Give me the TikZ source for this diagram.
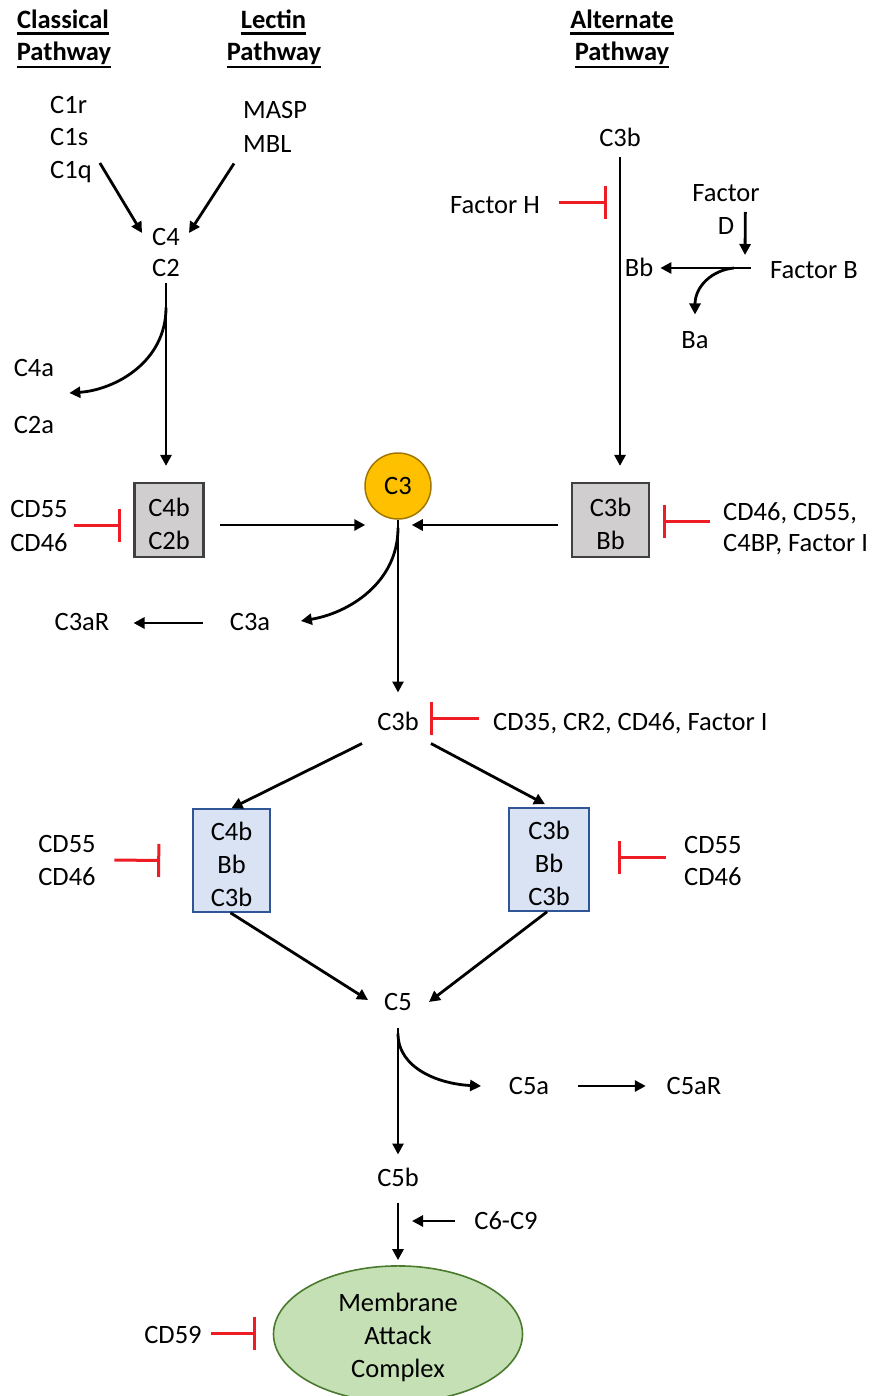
\documentclass[tikz,border=0pt]{standalone}
\usepackage{fontspec}
\setmainfont{Carlito}
\usetikzlibrary{arrows.meta,shapes.geometric}
\definecolor{boxgray}{HTML}{D0CECE}
\definecolor{boxedge}{HTML}{404040}
\definecolor{cgold}{HTML}{FFC000}
\definecolor{cgoldedge}{HTML}{A07800}
\definecolor{blfill}{HTML}{DAE3F3}
\definecolor{bledge}{HTML}{2F5597}
\definecolor{grfill}{HTML}{C5E0B4}
\definecolor{gredge}{HTML}{4A7A2E}
\definecolor{inhred}{HTML}{EE1C25}
\newcommand{\tallstrut}{\rule{0pt}{26pt}}
\begin{document}
\begin{tikzpicture}[x=1pt,y=-1pt,
  font=\fontsize{26.5}{33}\selectfont,
  lbl/.style={inner sep=0pt, text height=16.6pt, text depth=0pt},
  hdr/.style={inner sep=0pt, anchor=base, font=\fontsize{26.5}{33}\selectfont\bfseries},
  uline/.style={line width=2.4pt},
  arr/.style={line width=2.8pt, -{Triangle[length=11pt,width=11pt]}},
  inh/.style={line width=3pt, inhred, -{Bar[width=33pt]}},
  graybox/.style={draw=boxedge, line width=2.2pt, fill=boxgray, inner sep=0pt, align=center},
  bluebox/.style={draw=bledge, line width=1.6pt, fill=blfill, inner sep=0pt, align=center},
]
\useasboundingbox (0,0) rectangle (872,1396);

% pathway headings
\node[hdr] (hcA) at (63,28.5) {Classical};
\node[hdr] (hcB) at (64,61) {Pathway};
\node[hdr] (hlA) at (273.5,28.5) {Lectin};
\node[hdr] (hlB) at (274,61) {Pathway};
\node[hdr] (haA) at (622,28.5) {Alternate};
\node[hdr] (haB) at (622,61) {Pathway};
\foreach \h in {hcA,hlA,haA}
  \draw[uline] ([shift={(0,5)}]\h.base west) -- ([shift={(0,5)}]\h.base east);
\foreach \h in {hcB,hlB,haB}
  \draw[uline] ([shift={(0,6)}]\h.base west) -- ([shift={(0,6)}]\h.base east);

% classical and lectin inputs
\node[lbl, anchor=west] (c1r) at (50,105) {C1r};
\node[lbl, anchor=west] (c1s) at (50,137) {C1s};
\node[lbl, anchor=west] (c1q) at (50,170) {C1q};
\node[lbl, anchor=west] (masp) at (243,110) {MASP};
\node[lbl, anchor=west] (mbl) at (243,144) {MBL};
\node[lbl] (c4) at (166,237) {C4};
\node[lbl] (c2) at (166,268) {C2};
\node[lbl] (c4a) at (34,368) {C4a};
\node[lbl] (c2a) at (34,425) {C2a};

% C3 convertases and C3
\node[graybox, minimum width=69pt, minimum height=74pt] (box1) at (169,520) {\tallstrut C4b\\C2b};
\node[graybox, minimum width=77pt, minimum height=74pt] (box2) at (610.5,520) {\tallstrut C3b\\Bb};
\node[circle, draw=cgoldedge, line width=1.5pt, fill=cgold, minimum size=66pt, inner sep=0pt] (c3) at (398,486) {C3};
\node[lbl] (cd55a) at (39,509) {CD55};
\node[lbl] (cd46a) at (39,543) {CD46};
\node[lbl, anchor=west] (cd46b) at (723,512) {CD46, CD55,};
\node[lbl, anchor=west] (c4bp) at (723,543) {C4BP, Factor I};

% alternate pathway
\node[lbl] (c3bt) at (620,138) {C3b};
\node[lbl] (facH) at (495,205) {Factor H};
\node[lbl] (factor) at (726,193) {Factor};
\node[lbl] (d) at (726,226) {D};
\node[lbl] (facB) at (814,270) {Factor B};
\node[lbl] (bb) at (639,268) {Bb};
\node[lbl] (ba) at (695,340) {Ba};
\coordinate (split) at (745,268);

% C3 cleavage
\node[lbl] (c3a) at (250,622) {C3a};
\node[lbl] (c3ar) at (82,622) {C3aR};
\node[lbl] (c3bm) at (398,722) {C3b};
\node[lbl, anchor=west] (cd35) at (493,722) {CD35, CR2, CD46, Factor I};

% C5 convertases
\node[bluebox, minimum width=77pt, minimum height=103pt] (box3) at (231.5,860.5) {\tallstrut C4b\\Bb\\C3b};
\node[bluebox, minimum width=80pt, minimum height=103pt] (box4) at (549,859.5) {\tallstrut C3b\\Bb\\C3b};
\node[lbl] (cd55c) at (67,844) {CD55};
\node[lbl] (cd46c) at (67,877) {CD46};
\node[lbl, anchor=west] (cd55d) at (684,845) {CD55};
\node[lbl, anchor=west] (cd46d) at (684,877) {CD46};

% terminal pathway
\node[lbl] (c5) at (398,1002) {C5};
\node[lbl] (c5a) at (529,1086) {C5a};
\node[lbl] (c5ar) at (694,1086) {C5aR};
\node[lbl] (c5b) at (398,1178) {C5b};
\node[lbl] (c69) at (506,1221) {C6-C9};
\node[ellipse, draw=gredge, line width=1.6pt, fill=grfill, minimum width=249pt, minimum height=124pt, inner sep=0pt, align=center] (mac) at (398,1334) {\tallstrut Membrane\\Attack\\Complex};
\node[lbl] (cd59) at (173,1335) {CD59};

% classical / lectin connectors
\draw[arr] ([shift={(8,-7)}]c1q.east) -- ([shift={(-10,-4)}]c4.west);
\draw[arr] ([shift={(-9,11)}]mbl.south west) -- ([shift={(9,-4)}]c4.east);
\draw[arr] ([shift={(0,7)}]c2.south) -- ([yshift=16pt]c2.south |- box1.north);
\draw[arr] ([shift={(0,31)}]c2.south) .. controls +(0,55) and +(45,-3) .. ([shift={(15,25)}]c4a.east);
\draw[inh] ([shift={(6,16)}]cd55a.east) -- ([shift={(-12,5)}]box1.west);
\draw[arr] ([shift={(15,5)}]box1.east) -- ([shift={(1,39)}]c3.west);

% alternate pathway connectors
\draw[arr] ([shift={(0,11)}]c3bt.south) -- ([yshift=16pt]c3bt.south |- box2.north);
\draw[inh] ([shift={(19,-2)}]facH.east) -- ([shift={(-13,-2)}]c3bt.south |- facH.east);
\draw[arr] ([shift={(11,-14)}]d.east) -- ([shift={(0,-13)}]split);
\draw[arr] ([shift={(-19,-2)}]facB.west) -- ([shift={(7,0)}]bb.east);
\draw[arr] ([shift={(-36,-2)}]facB.west) .. controls +(-22,2) and +(0,-28) .. ([shift={(0,-17)}]ba.north);
\draw[arr] ([shift={(-13,5)}]box2.west) -- ([shift={(-20,39)}]c3.east);
\draw[inh] ([shift={(-13,9)}]cd46b.west) -- ([shift={(13,1)}]box2.east);

% C3 cleavage connectors
\draw[arr] (c3.south) -- ([shift={(0,-21)}]c3bm.north);
\draw[arr] ([shift={(0,8)}]c3.south) .. controls +(0,55) and +(48,-8) .. ([shift={(30.6,-1)}]c3a.east);
\draw[arr] ([shift={(-26.6,1)}]c3a.west) -- ([shift={(24,1)}]c3ar.east);
\draw[inh] ([shift={(-14,-4)}]cd35.west) -- ([shift={(11,-4)}]c3bm.east);
\draw[arr] ([shift={(-15,13)}]c3bm.south west) -- (box3.north);
\draw[arr] ([shift={(12,13)}]c3bm.south east) -- ([shift={(-4,-3)}]box4.north);

% C5 convertase connectors
\draw[inh] ([shift={(18.5,16)}]cd55c.east) -- ([shift={(-32,0)}]box3.west);
\draw[inh] ([shift={(-18,12)}]cd55d.west) -- ([shift={(28,-2.5)}]box4.east);
\draw[arr] ([shift={(-1,0)}]box3.south) -- ([shift={(-16,-2)}]c5.west);
\draw[arr] ([shift={(-2,0)}]box4.south) -- ([shift={(17,0)}]c5.east);

% terminal pathway connectors
\draw[arr] ([shift={(0,17)}]c5.south) -- ([shift={(0,-15)}]c5b.north);
\draw[arr] ([shift={(0,23)}]c5.south) .. controls +(0,35) and +(-42,-2) .. ([shift={(-27.6,0)}]c5a.west);
\draw[arr] ([shift={(28.6,0)}]c5a.east) -- ([shift={(-20.7,0)}]c5ar.west);
\draw[arr] ([shift={(0,16)}]c5b.south) -- ([shift={(0,-5)}]mac.north);
\draw[arr] ([shift={(-19.6,0)}]c69.west) -- ([xshift=14pt]c5b.south |- c69.west);
\draw[inh] ([shift={(9.5,-2)}]cd59.east) -- ([shift={(-16.5,-1)}]mac.west);
\end{tikzpicture}
\end{document}
